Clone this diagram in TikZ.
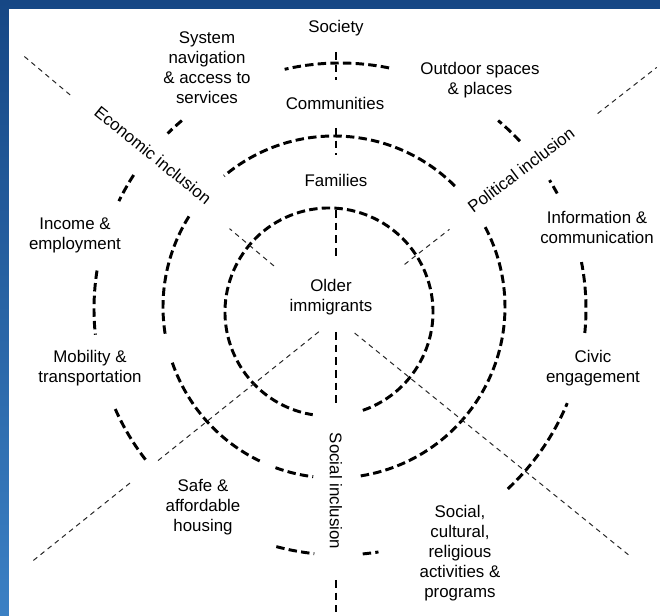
\documentclass[tikz,border=0pt]{standalone}
\usepackage{fontspec}
\setmainfont{Liberation Sans}
\definecolor{slidetop}{HTML}{164785}
\definecolor{slidebot}{HTML}{3B80C4}
\begin{document}
\begin{tikzpicture}[x=0.025cm,y=0.025cm,
ring/.style={line width=2.1pt,dash pattern=on 6pt off 3pt},
spoke/.style={line width=0.7pt,black!85,dash pattern=on 3.5pt off 3pt},
axis/.style={line width=0.9pt,dash pattern=on 5.5pt off 3.5pt},
txt/.style={align=center,font=\fontsize{12}{14.2}\selectfont,inner sep=0pt}]
\def\ra{104}
\def\rb{171}
\def\rc{246}
% slide background
\useasboundingbox (-336,-307) rectangle (324,309);
\shade[top color=slidetop,bottom color=slidebot] (-336,-307) rectangle (324,309);
\fill[white] (-327,-307) rectangle (324,300);
% rings
\begin{scope}[shift={(-7,-3)}]
\draw[ring] (-71:\ra) arc[start angle=-71,end angle=261,radius=\ra];
\end{scope}
\begin{scope}[shift={(-2,2)}]
\foreach \s/\e in {45/130,148/189,199/244.5,250/263,-81/29}
\draw[ring] (\s:\rb) arc[start angle=\s,end angle=\e,radius=\rb];
\end{scope}
\begin{scope}[shift={(4,0)}]
\foreach \s/\e in {78.5/103,43/50,28/31.6,-5.6/11,-47/-22.5,-84.7/-81,
255/264,204/218,171/186,147/154,130/134.5}
\draw[ring] (\s:\rc) arc[start angle=\s,end angle=\e,radius=\rc];
\end{scope}
% diagonal spokes
\begin{scope}[shift={(0,-9)}]
\foreach \a/\p/\q in {140/81/139,140/347/407,38/87/144,38/332/407,
218.7/22/232,218.7/264/389,-39/24/378}
\draw[spoke] (\a:\p) -- (\a:\q);
\end{scope}
% vertical axis
\foreach \p/\q in {257/229,181/154,99/52,-23/-94,-271/-303}
\draw[axis] (0,\p) -- (0,\q);
% labels
\node[txt] (society) at (0,281) {Society};
\node[txt] (communities) at (-1,206) {Communities};
\node[txt] (families) at (0,129) {Families};
\node[txt] (older) at (-5,12) {Older\\immigrants};
\node[txt] (navigation) at (-129,241) {System\\navigation\\\& access to\\services};
\node[txt] (outdoor) at (144,229) {Outdoor spaces\\\& places};
\node[txt] (income) at (-261,74) {Income \&\\employment};
\node[txt] (information) at (261,82) {Information \&\\communication};
\node[txt] (mobility) at (-246,-59) {Mobility \&\\transportation};
\node[txt] (civic) at (257,-59) {Civic\\engagement};
\node[txt] (housing) at (-133,-198) {Safe \&\\affordable\\housing};
\node[txt] (activities) at (124,-244) {Social,\\cultural,\\religious\\activities \&\\programs};
\node[txt,rotate=-90] (social) at (0,-182) {Social inclusion};
\node[txt,rotate=-39] (economic) at (-183,154) {Economic inclusion};
\node[txt,rotate=37] (political) at (185,139) {Political inclusion};
\end{tikzpicture}
\end{document}
